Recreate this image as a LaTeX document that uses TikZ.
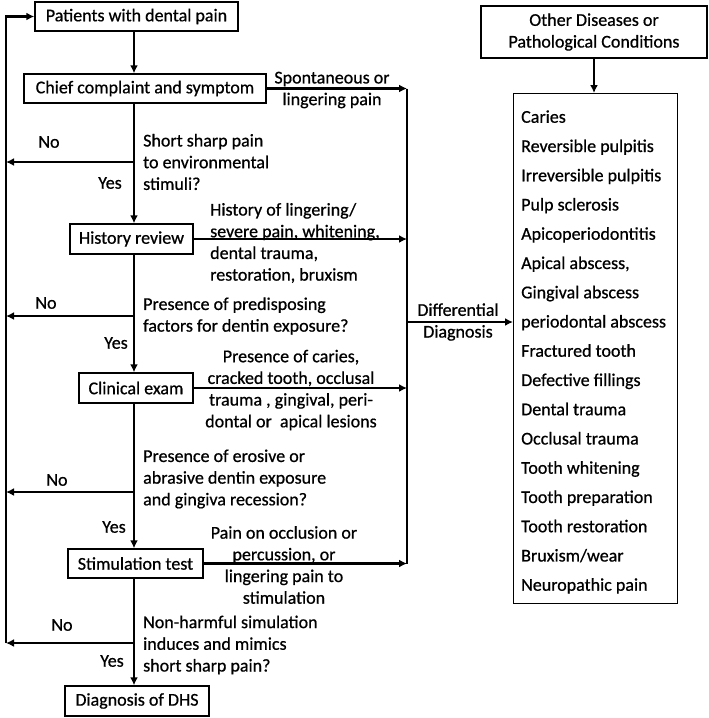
\documentclass[tikz,border=0pt]{standalone}
\usepackage{fontspec}
\setmainfont{Carlito}[FakeBold=0.7]
\usetikzlibrary{arrows.meta}
\begin{document}
\begin{tikzpicture}[x=1pt,y=-1pt,
  every node/.style={font=\fontsize{18}{21.7}\selectfont},
  box/.style={draw,line width=1.4pt,inner sep=0pt},
  lbl/.style={inner sep=0pt,align=left,anchor=west},
  clbl/.style={inner sep=0pt,align=center},
  conn/.style={line width=2.6pt},
  arr/.style={conn,-{Latex[length=8pt,width=8pt]}}]
\useasboundingbox (0,0) rectangle (709,718);
% boxes
\node[box,minimum width=203pt,minimum height=29pt] (pat) at (136.5,16.5) {Patients with dental pain};
\node[box,minimum width=242pt,minimum height=29pt] (chief) at (145,88.5) {Chief complaint and symptom};
\node[box,minimum width=123pt,minimum height=30pt] (hist) at (131.5,239) {History review};
\node[box,minimum width=114pt,minimum height=30pt] (clin) at (136,388) {Clinical exam};
\node[box,minimum width=135pt,minimum height=29pt] (stim) at (135.5,563.5) {Stimulation test};
\node[box,minimum width=144pt,minimum height=30pt] (dhs) at (137,701) {Diagnosis of DHS};
\node[box,minimum width=226pt,minimum height=52pt,align=center] (other) at (594,32) {Other Diseases or\\Pathological Conditions};
\node[draw,line width=1.1pt,anchor=north west,inner sep=0pt,minimum width=164pt,minimum height=510pt] (list) at (513,93) {};
\node[lbl,font=\fontsize{18}{29.25}\selectfont] (items) at (521,352)
  {Caries\\Reversible pulpitis\\Irreversible pulpitis\\Pulp sclerosis\\Apicoperiodontitis\\Apical abscess,\\Gingival abscess\\periodontal abscess\\Fractured tooth\\Defective fillings\\Dental trauma\\Occlusal trauma\\Tooth whitening\\Tooth preparation\\Tooth restoration\\Bruxism/wear\\Neuropathic pain};
% guide coordinates
\coordinate (L) at (6,0);
\coordinate (S) at (134,0);
\coordinate (R) at (407,0);
\coordinate (n1) at (134,162);
\coordinate (n2) at (134,316);
\coordinate (n3) at (134,492);
\coordinate (n4) at (134,643);
\coordinate (dd) at (407,322);
% spine
\draw[arr] (pat.south -| S) -- (chief.north -| S);
\draw[arr] (chief.south -| S) -- (hist.north -| S);
\draw[arr] (hist.south -| S) -- (clin.north -| S);
\draw[arr] (clin.south -| S) -- (stim.north -| S);
\draw[arr] (stim.south -| S) -- (dhs.north -| S);
% No branches
\draw[arr] (n1) -- (n1 -| L);
\draw[arr] (n2) -- (n2 -| L);
\draw[arr] (n3) -- (n3 -| L);
\draw[arr] (n4) -- (n4 -| L);
\draw[arr] (n4 -| L) -- (pat.west -| L) -- (pat.west);
% right side
\draw[conn] (chief.east -| R) -- (stim.east -| R);
\draw[arr] (chief.east) -- (chief.east -| R);
\draw[arr] (hist.east) -- (hist.east -| R);
\draw[arr] (clin.east) -- (clin.east -| R);
\draw[arr] (stim.east) -- (stim.east -| R);
\draw[arr] (dd) -- (dd -| list.west);
\draw[arr] (other.south) -- (other.south |- list.north);
% labels
\node[clbl] (t0) at (332,90) {Spontaneous or\\lingering pain};
\node[clbl] (no1) at (49,142) {No};
\node[clbl] (yes1) at (110,183) {Yes};
\node[lbl] (q1) at (143,162) {Short sharp pain\\to environmental\\stimuli?};
\node[lbl] (t1) at (210,243) {History of lingering/\\severe pain, whitening,\\dental trauma,\\restoration, bruxism};
\node[clbl] (no2) at (46,303) {No};
\node[clbl] (yes2) at (116,343) {Yes};
\node[lbl] (q2) at (143,316) {Presence of predisposing\\factors for dentin exposure?};
\node[clbl] (t2) at (291,390) {Presence of caries,\\cracked tooth, occlusal\\trauma , gingival, peri-\\dontal or\ \ apical lesions};
\node[clbl] (no3) at (57,480) {No};
\node[clbl] (yes3) at (114,527) {Yes};
\node[lbl] (q3) at (143,479) {Presence of erosive or\\abrasive dentin exposure\\and gingiva recession?};
\node[clbl] (t3) at (284,565) {Pain on occlusion or\\percussion, or\\lingering pain to\\stimulation};
\node[clbl] (no4) at (62,625) {No};
\node[clbl] (yes4) at (112,661) {Yes};
\node[lbl] (q4) at (143,645) {Non-harmful simulation\\induces and mimics\\short sharp pain?};
\node[clbl] (dlab) at (458,322) {Differential\\Diagnosis};
\end{tikzpicture}
\end{document}
